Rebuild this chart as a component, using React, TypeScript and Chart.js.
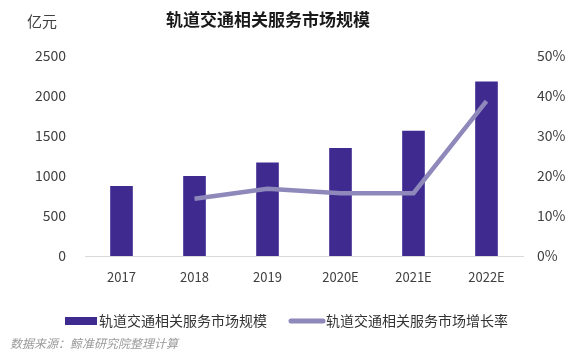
import React, { useEffect, useRef } from "react";
import { Chart, registerables } from "chart.js";

Chart.register(...registerables);

const categories = ["2017", "2018", "2019", "2020E", "2021E", "2022E"];
const marketSize = [875, 1000, 1170, 1350, 1566, 2180];
const growthRate = [null, 0.143, 0.168, 0.157, 0.157, 0.387];
const leftTicks = [0, 500, 1000, 1500, 2000, 2500];
const rightTicks = [0, 0.1, 0.2, 0.3, 0.4, 0.5];

const titleText = "轨道交通相关服务市场规模";
const unitText = "亿元";
const barLabel = "轨道交通相关服务市场规模";
const lineLabel = "轨道交通相关服务市场增长率";
const sourceText = "数据来源：鲸准研究院整理计算";

const BAR_COLOR = "#3f2a90";
const LINE_COLOR = "#8e88bb";
const FONT = "'Noto Sans CJK SC', 'Noto Sans', sans-serif";

const decorPlugin = {
  id: "decor",
  afterDraw(chart: any) {
    const ctx = chart.ctx;
    ctx.save();
    ctx.textBaseline = "middle";
    // title
    ctx.fillStyle = "#1a1a1a";
    ctx.font = `bold 17px ${FONT}`;
    ctx.textAlign = "center";
    ctx.fillText(titleText, 268, 20);
    // unit
    ctx.fillStyle = "#404040";
    ctx.font = `15px ${FONT}`;
    ctx.textAlign = "left";
    ctx.fillText(unitText, 27, 21);
    // legend
    ctx.fillStyle = BAR_COLOR;
    ctx.fillRect(65, 317, 32, 8);
    ctx.fillStyle = "#333";
    ctx.font = `14px ${FONT}`;
    ctx.fillText(barLabel, 99, 321);
    ctx.strokeStyle = LINE_COLOR;
    ctx.lineWidth = 5;
    ctx.lineCap = "round";
    ctx.beginPath();
    ctx.moveTo(291, 321);
    ctx.lineTo(323, 321);
    ctx.stroke();
    ctx.fillStyle = "#333";
    ctx.fillText(lineLabel, 326, 321);
    // source
    ctx.fillStyle = "#9a9a9a";
    ctx.font = `italic 12px ${FONT}`;
    ctx.fillText(sourceText, 10, 343);
    ctx.restore();
  },
};

export default function App() {
  const ref = useRef<HTMLCanvasElement>(null);
  useEffect(() => {
    document.body.style.margin = "0";
    const chart = new Chart(ref.current!, {
      type: "bar",
      data: {
        labels: categories,
        datasets: [
          {
            type: "line",
            label: lineLabel,
            data: growthRate as any,
            yAxisID: "y1",
            borderColor: LINE_COLOR,
            backgroundColor: LINE_COLOR,
            borderWidth: 4.5,
            pointRadius: 0,
            tension: 0,
            order: 0,
            spanGaps: false,
          } as any,
          {
            type: "bar",
            label: barLabel,
            data: marketSize,
            yAxisID: "y",
            backgroundColor: BAR_COLOR,
            categoryPercentage: 1,
            barPercentage: 0.31,
            order: 1,
          },
        ],
      },
      options: {
        animation: false,
        responsive: false,
        maintainAspectRatio: false,
        layout: { padding: { top: 56, left: 0, right: 0, bottom: 0 } },
        plugins: {
          legend: { display: false },
          title: { display: false },
          tooltip: { enabled: false },
        },
        scales: {
          x: {
            grid: { display: false, drawTicks: false },
            border: { display: true, color: "#d9d9d9", width: 1 },
            ticks: {
              color: "#404040",
              font: { size: 13, family: FONT },
              padding: 13,
              maxRotation: 0,
            },
            afterFit(scale: any) {
              scale.height = 98;
            },
          },
          y: {
            position: "left",
            min: 0,
            max: 2500,
            afterBuildTicks(scale: any) {
              scale.ticks = leftTicks.map((v) => ({ value: v }));
            },
            grid: { display: false, drawTicks: false },
            border: { display: false },
            ticks: {
              color: "#404040",
              font: { size: 14, family: FONT },
              padding: 19,
              callback: (v: any) => String(v),
            },
            afterFit(scale: any) {
              scale.width = 85;
            },
          },
          y1: {
            position: "right",
            min: 0,
            max: 0.5,
            afterBuildTicks(scale: any) {
              scale.ticks = rightTicks.map((v) => ({ value: v }));
            },
            grid: { display: false, drawTicks: false },
            border: { display: false },
            ticks: {
              color: "#404040",
              font: { size: 14, family: FONT },
              padding: 14,
              callback: (v: any) => `${Math.round(Number(v) * 100)}%`,
            },
            afterFit(scale: any) {
              scale.width = 61;
            },
          },
        },
      },
      plugins: [decorPlugin],
    });
    return () => chart.destroy();
  }, []);
  return (
    <div style={{ position: "absolute", left: 0, top: 0, width: 584, height: 354, background: "#fff" }}>
      <canvas ref={ref} width={584} height={354} style={{ width: 584, height: 354 }} />
    </div>
  );
}
